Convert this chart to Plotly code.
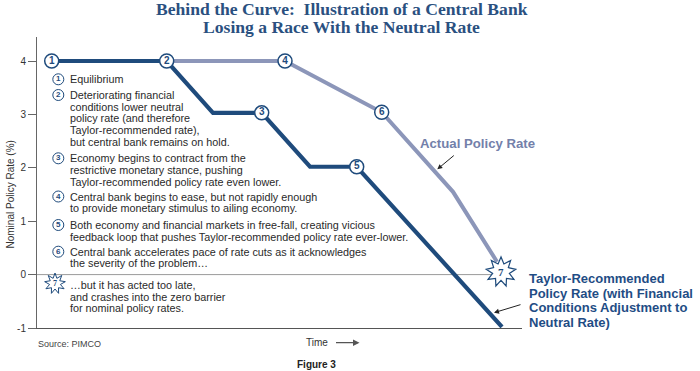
import plotly.graph_objects as go
import math

# ---------------- data ----------------
taylor_t = [1.47, 12.97, 17.6, 22.47, 27.3, 31.97, 46.5]
taylor_v = [4.0, 4.0, 3.03, 3.03, 2.02, 2.02, -0.98]
actual_t = [12.97, 24.8, 34.47, 41.6, 46.0]
actual_v = [4.0, 4.0, 3.04, 1.55, 0.24]
star7_t = 46.4
star7_v = 0.05
ytick_vals = [4, 3, 2, 1, 0, -1]
ytick_text = ["4", "3", "2", "1", "0", "-1"]

legend_items = [
    ("1", ["Equilibrium"]),
    ("2", ["Deteriorating financial", "conditions lower neutral", "policy rate (and therefore",
           "Taylor-recommended rate),", "but central bank remains on hold."]),
    ("3", ["Economy begins to contract from the", "restrictive monetary stance, pushing",
           "Taylor-recommended policy rate even lower."]),
    ("4", ["Central bank begins to ease, but not rapidly enough",
           "to provide monetary stimulus to ailing economy."]),
    ("5", ["Both economy and financial markets in free-fall, creating vicious",
           "feedback loop that pushes Taylor-recommended policy rate ever-lower."]),
    ("6", ["Central bank accelerates pace of rate cuts as it acknowledges",
           "the severity of the problem\u2026"]),
    ("7", ["\u2026but it has acted too late,", "and crashes into the zero barrier",
           "for nominal policy rates."]),
]
legend_first_y = [79.3, 95, 158.3, 196.5, 225, 251.7, 285]

# ---------------- styling / geometry ----------------
W, H = 700, 371
L, R, T, B = 37, 522, 37, 328
X_RANGE = [0, (R - L) / 10.0]
PXU = 53.4
Y_RANGE = [-1, -1 + (B - T) / PXU]

DARK = "#1f4b7c"
GRAYBLUE = "#8c96b9"
TXT = "#2a2a2a"
FONT = "Liberation Sans, Arial, sans-serif"


def xp(px):
    return (px - L) / (R - L)


def yp(py):
    return (B - py) / (B - T)


def xd(px):
    return (px - L) / 10.0


def yd(py):
    return -1 + (B - py) / PXU


def star_path(ro, ri, n=9):
    pts = []
    for k in range(2 * n):
        r = ro if k % 2 == 0 else ri
        a = math.pi / 2 + k * math.pi / n
        pts.append((r * math.cos(a), r * math.sin(a)))
    return "M " + " L ".join(f"{x:.2f},{y:.2f}" for x, y in pts) + " Z"


fig = go.Figure()

# lines
fig.add_trace(go.Scatter(x=actual_t, y=actual_v, mode="lines",
                         line=dict(color=GRAYBLUE, width=4), hoverinfo="skip"))
fig.add_trace(go.Scatter(x=taylor_t, y=taylor_v, mode="lines",
                         line=dict(color=DARK, width=4.2), hoverinfo="skip"))

# numbered markers
mk_t = [taylor_t[0], taylor_t[1], taylor_t[3], actual_t[1], taylor_t[5], actual_t[2]]
mk_v = [taylor_v[0], taylor_v[1], taylor_v[3], actual_v[1], taylor_v[5], actual_v[2]]
mk_lab = ["1", "2", "3", "4", "5", "6"]
fig.add_trace(go.Scatter(x=mk_t, y=mk_v, mode="markers+text", text=mk_lab,
                         textposition="middle center",
                         textfont=dict(family=FONT, size=10, color=DARK, weight="bold"),
                         marker=dict(size=14, color="white", line=dict(color=DARK, width=1.5)),
                         cliponaxis=False, hoverinfo="skip"))

# legend circled numbers (1-6)
leg_nums = [it[0] for it in legend_items if it[0] != "7"]
leg_y = [yd(y) for (it, y) in zip(legend_items, legend_first_y) if it[0] != "7"]
fig.add_trace(go.Scatter(x=[xd(58.3)] * len(leg_nums), y=leg_y, mode="markers+text", text=leg_nums,
                         textposition="middle center",
                         textfont=dict(family=FONT, size=8, color=DARK, weight="bold"),
                         marker=dict(size=11, color="white", line=dict(color=DARK, width=1)),
                         cliponaxis=False, hoverinfo="skip"))

shapes = []
# zero line up to the star
shapes.append(dict(type="line", xref="x", yref="y", x0=0, x1=star7_t, y0=0, y1=0,
                   line=dict(color="#9a9a9a", width=1), layer="below"))
# star 7 on chart
shapes.append(dict(type="path", xref="x", yref="y", xsizemode="pixel", ysizemode="pixel",
                   xanchor=star7_t, yanchor=star7_v, path=star_path(15, 8.5),
                   fillcolor="white", line=dict(color=DARK, width=1.2), layer="above"))
# legend star 7
leg7_x, leg7_y = xd(55), yd(legend_first_y[-1] - 1.5)
shapes.append(dict(type="path", xref="x", yref="y", xsizemode="pixel", ysizemode="pixel",
                   xanchor=leg7_x, yanchor=leg7_y, path=star_path(10.5, 5.5),
                   fillcolor="white", line=dict(color=DARK, width=1), layer="above"))

annotations = []
annotations.append(dict(x=star7_t, y=star7_v, xref="x", yref="y", text="<b>7</b>",
                        showarrow=False, xanchor="center", yanchor="middle",
                        font=dict(family="Liberation Serif, serif", size=11, color=DARK)))
annotations.append(dict(x=leg7_x, y=leg7_y, xref="x", yref="y", text="<b>7</b>",
                        showarrow=False, xanchor="center", yanchor="middle",
                        font=dict(family="Liberation Serif, serif", size=8, color=DARK)))


def ann(px, py, text, **kw):
    d = dict(x=xp(px), y=yp(py), xref="paper", yref="paper", text=text, showarrow=False,
             xanchor="center", yanchor="middle")
    d.update(kw)
    annotations.append(d)


# legend text
for (num, lines), y0 in zip(legend_items, legend_first_y):
    for i, ln in enumerate(lines):
        ann(68, y0 + i * 11.7, ln, xanchor="left",
            font=dict(family=FONT, size=10.8, color=TXT))

# right labels
ann(418, 143.3, "<b>Actual Policy Rate</b>", xanchor="left",
    font=dict(family=FONT, size=13.2, color="#7380aa"))
ann(437.3, 169.3, "", showarrow=True, ax=18, ay=-15, arrowhead=2, arrowsize=1, arrowwidth=1,
    arrowcolor="#222")
taylor_lab = ["Taylor-Recommended", "Policy Rate (with Financial", "Conditions Adjustment to", "Neutral Rate)"]
for i, ln in enumerate(taylor_lab):
    ann(527, 278.3 + i * 14.7, "<b>" + ln + "</b>", xanchor="left",
        font=dict(family=FONT, size=13, color="#1f4d85"))
ann(494, 312.7, "", showarrow=True, ax=28, ay=-8.5, arrowhead=2, arrowsize=1, arrowwidth=1,
    arrowcolor="#222")

# y-axis title
ann(10, 194.5, "Nominal Policy Rate (%)", textangle=-90, font=dict(family=FONT, size=10, color="#333"))
# time
ann(316.7, 342.7, "Time", font=dict(family=FONT, size=10, color="#333"))
ann(359.5, 342.7, "", showarrow=True, ax=-25, ay=0, arrowhead=2, arrowsize=1, arrowwidth=1.3,
    arrowcolor="#555")
ann(36, 344.3, "Source: PIMCO", xanchor="left", font=dict(family=FONT, size=9, color="#444"))
ann(316.7, 364, "<b>Figure 3</b>", font=dict(family=FONT, size=10, color="#222"))
# title
ann(341.5, 9.5, "<b>Behind the Curve:  Illustration of a Central Bank</b>",
    font=dict(family="Liberation Serif, serif", size=17.6, color="#2a5080"))
ann(341.5, 27.5, "<b>Losing a Race With the Neutral Rate</b>",
    font=dict(family="Liberation Serif, serif", size=17.6, color="#2a5080"))

fig.update_layout(
    width=W, height=H,
    margin=dict(l=L, r=W - R, t=T, b=H - B, pad=0),
    paper_bgcolor="white", plot_bgcolor="white",
    showlegend=False,
    shapes=shapes, annotations=annotations,
    xaxis=dict(range=X_RANGE, showgrid=False, zeroline=False, showticklabels=False, automargin=False,
               showline=True, linecolor="#555", linewidth=1.2, ticks="", fixedrange=True),
    yaxis=dict(range=Y_RANGE, showgrid=False, zeroline=False, tickvals=ytick_vals, ticktext=ytick_text,
               automargin=False, ticks="outside", ticklen=8, tickcolor="#666", tickwidth=1,
               showline=True, linecolor="#666", linewidth=1,
               tickfont=dict(family=FONT, size=10, color="#333"), fixedrange=True),
    font=dict(family=FONT),
)

fig.write_html("out.html", config={"displayModeBar": False},
               post_script="document.body.style.margin='0';")
